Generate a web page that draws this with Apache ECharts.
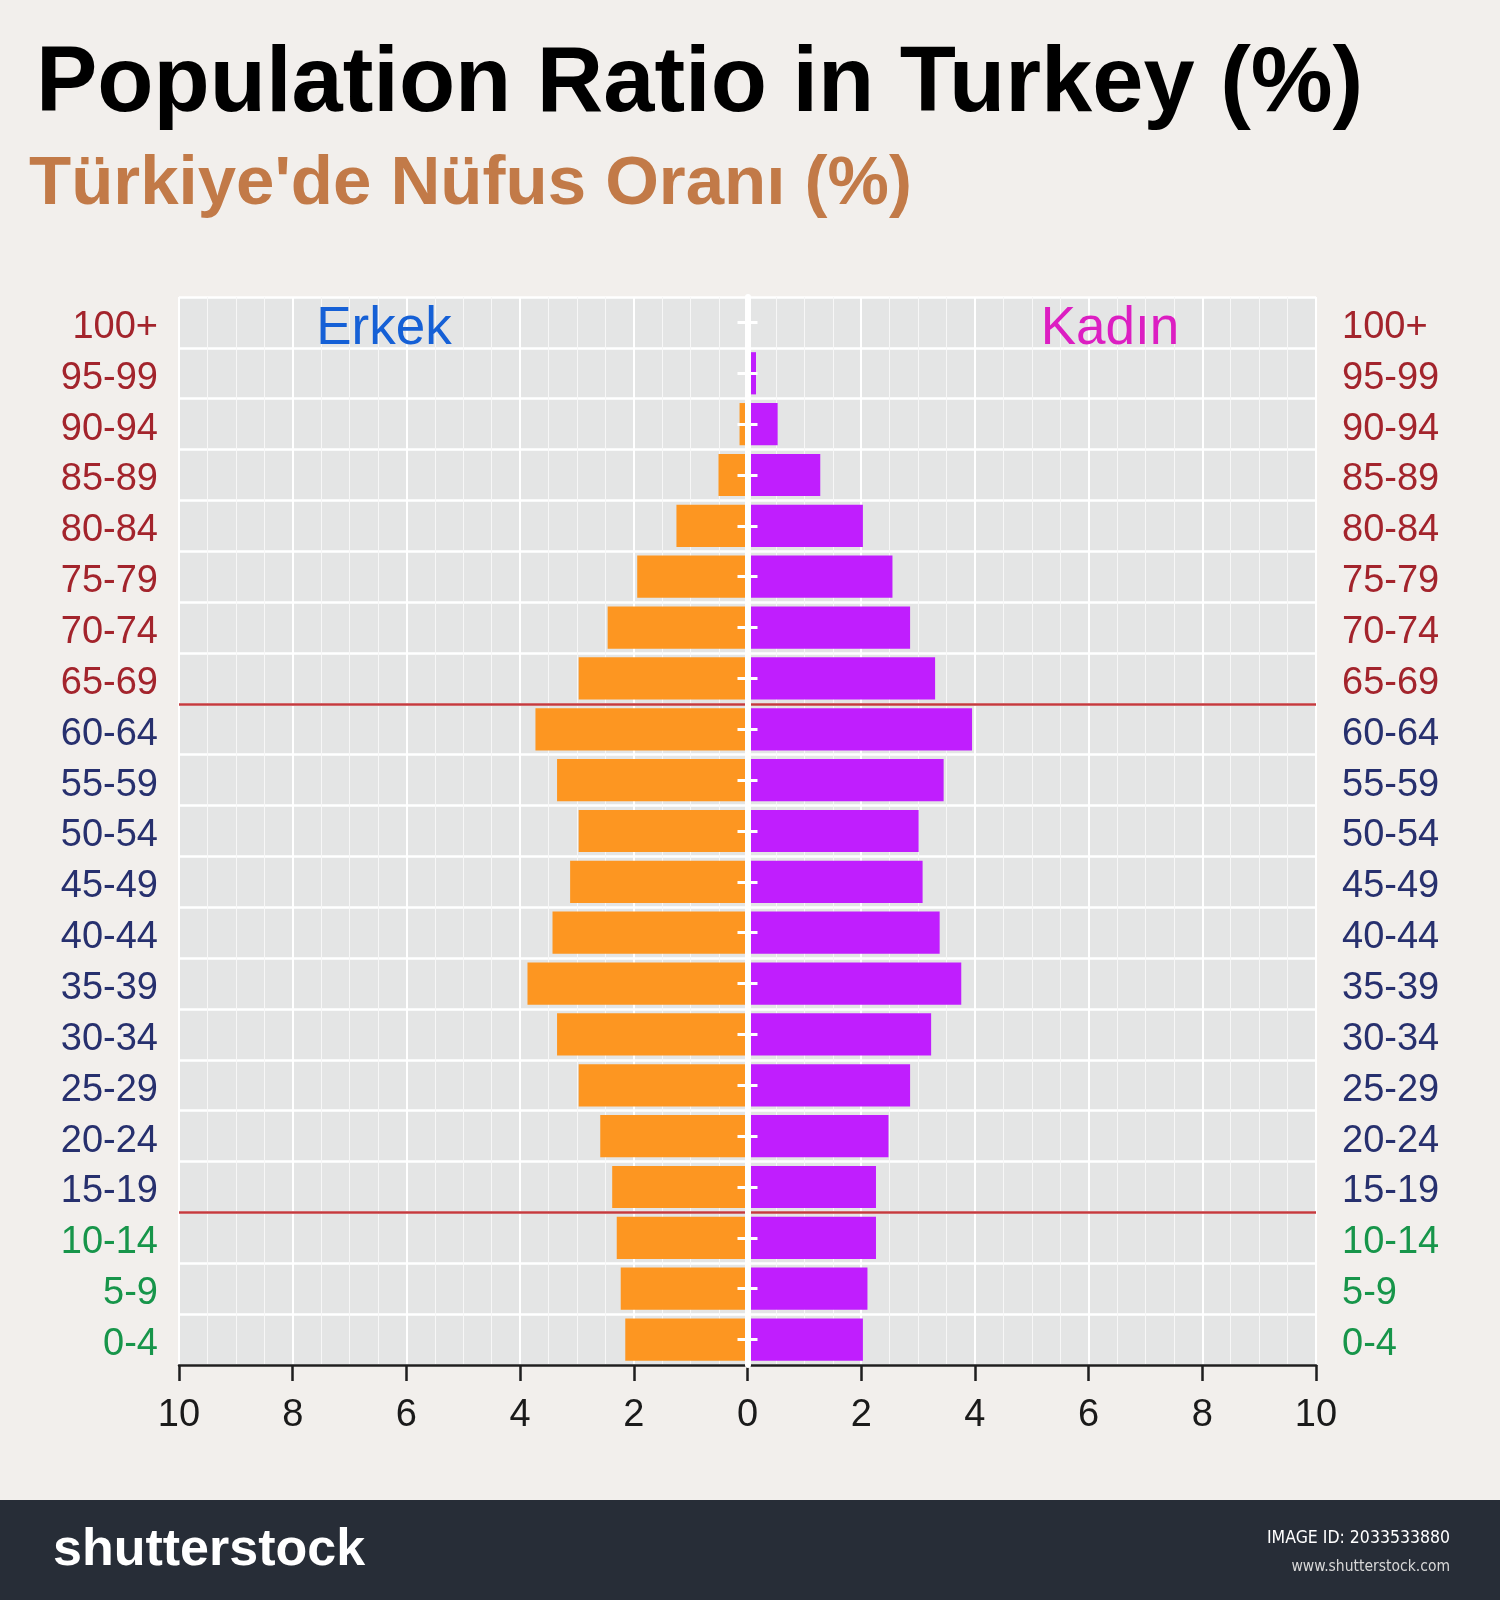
<!DOCTYPE html>
<html>
<head>
<meta charset="utf-8">
<script src="https://cdn.jsdelivr.net/npm/echarts@6/dist/echarts.min.js"></script>
<style>
html, body { margin: 0; padding: 0; background: #F2EFEC; }
#chart { width: 1500px; height: 1600px; }
</style>
</head>
<body>
<div id="chart"></div>
<script>
// ---- Data (bottom to top) ----
const ageGroups = ['0-4','5-9','10-14','15-19','20-24','25-29','30-34','35-39','40-44','45-49',
                   '50-54','55-59','60-64','65-69','70-74','75-79','80-84','85-89','90-94','95-99','100+'];
const maleValues   = [2.15, 2.23, 2.30, 2.38, 2.59, 2.97, 3.35, 3.87, 3.43, 3.12,
                      2.97, 3.35, 3.73, 2.97, 2.46, 1.94, 1.25, 0.51, 0.14, 0.02, 0];
const femaleValues = [2.03, 2.11, 2.26, 2.26, 2.48, 2.86, 3.23, 3.76, 3.38, 3.08,
                      3.01, 3.45, 3.95, 3.30, 2.86, 2.55, 2.03, 1.28, 0.53, 0.15, 0];
const xTicks = [-10, -8, -6, -4, -2, 0, 2, 4, 6, 8, 10];
// first group of each age band (used for label colours and the red divider lines)
const youngStart = '0-4', workingStart = '15-19', elderlyStart = '65-69';

const titleText = 'Population Ratio in Turkey (%)';
const subtitleText = "Türkiye'de Nüfus Oranı (%)";
const maleName = 'Erkek', femaleName = 'Kadın';

// ---- Styles ----
const FONT = '"Liberation Sans", Arial, sans-serif';
const colYoung = '#17954A', colWorking = '#27306E', colElderly = '#A3242C';
const iWorking = ageGroups.indexOf(workingStart), iElderly = ageGroups.indexOf(elderlyStart);
function labelColor(v) {
  const i = ageGroups.indexOf(v);
  if (i >= iElderly) return colElderly;
  if (i >= iWorking) return colWorking;
  return colYoung;
}

const chart = echarts.init(document.getElementById('chart'), null, { renderer: 'canvas' });

const labelAxisBase = {
  type: 'category',
  data: ageGroups,
  gridIndex: 0,
  axisLine: { show: false, onZero: false },
  axisTick: { show: false },
};

const option = {
  backgroundColor: '#F2EFEC',
  animation: false,
  title: [
    { text: titleText, left: 36, top: 40, padding: 0,
      textStyle: { fontFamily: FONT, fontSize: 92, fontWeight: 'bold', color: '#000000' } },
    { text: subtitleText, left: 29, top: 150, padding: 0,
      textStyle: { fontFamily: FONT, fontSize: 69, fontWeight: 'bold', color: '#C27A48' } }
  ],
  grid: {
    left: 179, right: 184, top: 297, bottom: 235,
    show: true, backgroundColor: '#E4E5E5', borderWidth: 0,
    containLabel: false, outerBoundsMode: 'none'
  },
  xAxis: {
    type: 'value', min: -10, max: 10, interval: 2,
    position: 'bottom',
    axisLine: { show: true, onZero: false, lineStyle: { color: '#1e1e1e', width: 2.5 } },
    axisTick: { show: true, length: 16, lineStyle: { color: '#1e1e1e', width: 2.5 } },
    axisLabel: { margin: 32, fontFamily: FONT, fontSize: 38, color: '#1a1a1a',
                 formatter: v => String(Math.abs(v)) },
    splitLine: { show: true, lineStyle: { color: '#FFFFFF', width: 2 } },
    minorTick: { show: false, splitNumber: 4 },
    minorSplitLine: { show: true, lineStyle: { color: '#F7F7F7', width: 1 } }
  },
  yAxis: [
    Object.assign({}, labelAxisBase, {
      position: 'left',
      axisLabel: { margin: 21, fontFamily: FONT, fontSize: 38, color: labelColor,
                   verticalAlign: 'top', lineHeight: 10 },
      splitLine: { show: true, lineStyle: { color: '#FFFFFF', width: 2.5 } }
    }),
    Object.assign({}, labelAxisBase, {
      position: 'right',
      axisLabel: { margin: 26, fontFamily: FONT, fontSize: 38, color: labelColor,
                   verticalAlign: 'top', lineHeight: 10 },
      splitLine: { show: false }
    }),
    // zero line with ticks to the left
    { type: 'category', data: ageGroups, position: 'left', z: 10,
      axisLine: { show: true, onZero: true, onZeroAxisIndex: 0, lineStyle: { color: '#FFFFFF', width: 6 } },
      axisTick: { show: true, alignWithLabel: true, inside: false, length: 10, lineStyle: { color: '#FFFFFF', width: 3 } },
      axisLabel: { show: false }, splitLine: { show: false } },
    // ticks to the right of the zero line
    { type: 'category', data: ageGroups, position: 'left', z: 10,
      axisLine: { show: false, onZero: true, onZeroAxisIndex: 0 },
      axisTick: { show: true, alignWithLabel: true, inside: true, length: 10, lineStyle: { color: '#FFFFFF', width: 3 } },
      axisLabel: { show: false }, splitLine: { show: false } },
    // hidden continuous axis over the same bands, for the divider lines
    { type: 'value', min: 0, max: ageGroups.length, show: false,
      axisLine: { onZero: false }, splitLine: { show: false } }
  ],
  series: [
    {
      name: maleName, type: 'bar', yAxisIndex: 0,
      data: maleValues.map(v => -v),
      barWidth: '83%', barGap: '-100%',
      itemStyle: { color: '#FD9621' }
    },
    {
      name: femaleName, type: 'bar', yAxisIndex: 0,
      data: femaleValues,
      barWidth: '83%', barGap: '-100%',
      itemStyle: { color: '#C01EFE' }
    },
    {
      name: 'dividers', type: 'line', yAxisIndex: 4, data: [],
      markLine: {
        silent: true, symbol: 'none', animation: false,
        label: { show: false },
        lineStyle: { color: '#C53A3E', width: 2.5, type: 'solid' },
        data: [{ yAxis: iWorking }, { yAxis: iElderly }]
      }
    }
  ],
  graphic: [
    { type: 'text', x: 384, y: 329, z: 20,
      style: { text: maleName, fontFamily: FONT, fontSize: 53, fill: '#1560D6',
               textAlign: 'center', textVerticalAlign: 'middle' } },
    { type: 'text', x: 1110, y: 329, z: 20,
      style: { text: femaleName, fontFamily: FONT, fontSize: 53, fill: '#DC1EC2',
               textAlign: 'center', textVerticalAlign: 'middle' } },
    { type: 'rect', shape: { x: 0, y: 1500, width: 1500, height: 100 }, z: 20,
      style: { fill: '#272D37' } },
    { type: 'text', x: 53, y: 1551, z: 21,
      style: { text: 'shutterstock', fontFamily: FONT, fontSize: 52, fontWeight: 'bold', fill: '#FFFFFF',
               textAlign: 'left', textVerticalAlign: 'middle' } },
    { type: 'text', x: 1450, y: 1538, z: 21,
      style: { text: 'IMAGE ID: 2033533880', fontFamily: '"DejaVu Sans Condensed", "Liberation Sans Narrow", sans-serif',
               fontSize: 17.5, fill: '#FFFFFF', textAlign: 'right', textVerticalAlign: 'middle' } },
    { type: 'text', x: 1450, y: 1567, z: 21,
      style: { text: 'www.shutterstock.com', fontFamily: '"DejaVu Sans Condensed", "Liberation Sans Narrow", sans-serif',
               fontSize: 15.5, fill: '#D8D8D8', textAlign: 'right', textVerticalAlign: 'middle' } }
  ]
};

chart.setOption(option);
</script>
</body>
</html>
